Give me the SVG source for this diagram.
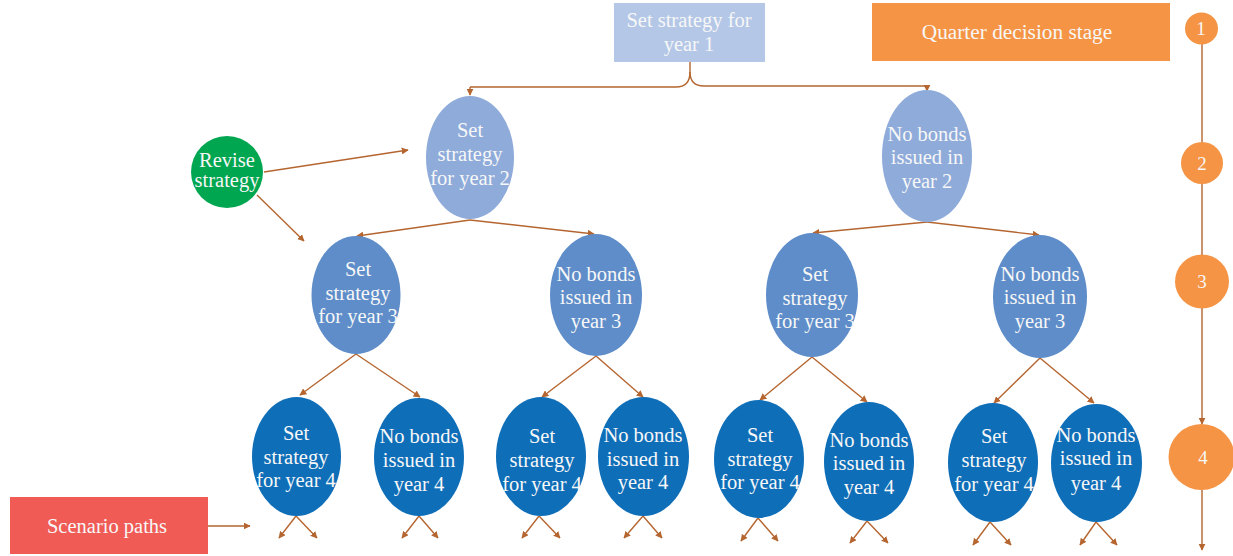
<svg xmlns="http://www.w3.org/2000/svg" width="1233" height="556" viewBox="0 0 1233 556">
<style>
text{font-family:"Liberation Serif","Times New Roman",serif;fill:#f7f7f7;text-anchor:middle;font-size:20.5px}
.c{stroke:#b5652f;stroke-width:1.4;fill:none;marker-end:url(#ah)}
.n{stroke:#b5652f;stroke-width:1.4;fill:none}
.l2{fill:#8eabda}
.l3{fill:#5e8dc9}
.l4{fill:#0f6eb8}
.num{font-size:19px}
.big{font-size:21.3px}
</style>
<defs>
<marker id="ah" viewBox="0 0 10 10" refX="9" refY="5" markerWidth="7" markerHeight="7" markerUnits="userSpaceOnUse" orient="auto">
<path d="M0,0 L10,5 L0,10 z" fill="#b5652f"/>
</marker>
</defs>

<g id="connectors">
<path class="n" d="M690,62 L690,72 Q690,87 676,87 L470,87"/>
<path class="c" d="M470,87 L470,95"/>
<path class="n" d="M690,72 Q690,86 704,86 L927,86"/>
<path class="c" d="M927,86 L927,91"/>
<path class="c" d="M264,172 L408,150"/>
<path class="c" d="M257,195 L304,241"/>
<path class="c" d="M470,220 L357,236"/>
<path class="c" d="M470,220 L594,234"/>
<path class="c" d="M927,222 L813,233"/>
<path class="c" d="M927,222 L1039,235"/>
<path class="c" d="M356,354 L300,395"/>
<path class="c" d="M356,354 L420,397"/>
<path class="c" d="M596,356 L542,397"/>
<path class="c" d="M596,356 L643,397"/>
<path class="c" d="M812,357 L760,400"/>
<path class="c" d="M812,357 L867,402"/>
<path class="c" d="M1040,358 L994,403"/>
<path class="c" d="M1040,358 L1094,403"/>
<path class="c" d="M296,516 L279,538"/>
<path class="c" d="M296,516 L317,538"/>
<path class="c" d="M419,516 L402,538"/>
<path class="c" d="M419,516 L438,538"/>
<path class="c" d="M539,516 L522,538"/>
<path class="c" d="M539,516 L560,538"/>
<path class="c" d="M643,516 L624,538"/>
<path class="c" d="M643,516 L662,538"/>
<path class="c" d="M758,518 L741,541"/>
<path class="c" d="M758,518 L778,541"/>
<path class="c" d="M867,521 L850,543"/>
<path class="c" d="M867,521 L888,543"/>
<path class="c" d="M990,522 L973,545"/>
<path class="c" d="M990,522 L1011,545"/>
<path class="c" d="M1096,522 L1080,545"/>
<path class="c" d="M1096,522 L1117,545"/>
<path class="c" d="M208,526 L250,526"/>
<path class="n" d="M1202,43 L1202,142"/>
<path class="n" d="M1202,184 L1202,255"/>
<path class="c" d="M1202,308 L1202,424"/>
<path class="c" d="M1202,490 L1202,550"/>
</g>

<g id="year1">
<rect x="614" y="3" width="151" height="59" fill="#b4c7e7"/>
<text x="689" y="27">Set strategy for</text>
<text x="689" y="51">year 1</text>
</g>

<g id="quarter-stage">
<rect x="872" y="3" width="298" height="58" fill="#f59444"/>
<text class="big" x="1017" y="39">Quarter decision stage</text>
</g>

<g id="scenario-paths">
<rect x="10" y="497" width="198" height="57" fill="#f05b55"/>
<text x="107" y="533">Scenario paths</text>
</g>

<g id="revise">
<circle cx="227" cy="172" r="36" fill="#00a650"/>
<text x="227" y="167">Revise</text>
<text x="227" y="187">strategy</text>
</g>

<g id="y2-set">
<ellipse class="l2" cx="470" cy="157.5" rx="44" ry="61.5"/>
<text x="470" y="137">Set</text>
<text x="470" y="161">strategy</text>
<text x="470" y="185">for year 2</text>
</g>
<g id="y2-nob">
<ellipse class="l2" cx="927" cy="156" rx="45" ry="66"/>
<text x="927" y="141">No bonds</text>
<text x="927" y="164">issued in</text>
<text x="927" y="188">year 2</text>
</g>

<g id="y3-set-a">
<ellipse class="l3" cx="356" cy="295" rx="44.5" ry="59"/>
<text x="358" y="276">Set</text>
<text x="358" y="300">strategy</text>
<text x="358" y="323">for year 3</text>
</g>
<g id="y3-nob-a">
<ellipse class="l3" cx="596" cy="295" rx="46" ry="61"/>
<text x="596" y="281">No bonds</text>
<text x="596" y="304">issued in</text>
<text x="596" y="328">year 3</text>
</g>
<g id="y3-set-b">
<ellipse class="l3" cx="812" cy="295" rx="46" ry="62"/>
<text x="815" y="281">Set</text>
<text x="815" y="305">strategy</text>
<text x="815" y="328">for year 3</text>
</g>
<g id="y3-nob-b">
<ellipse class="l3" cx="1040" cy="296.5" rx="47" ry="61.5"/>
<text x="1040" y="281">No bonds</text>
<text x="1040" y="304">issued in</text>
<text x="1040" y="328">year 3</text>
</g>

<g id="y4-set-a">
<ellipse class="l4" cx="296.5" cy="456.5" rx="44.5" ry="59.5"/>
<text x="296" y="440">Set</text>
<text x="296" y="464">strategy</text>
<text x="296" y="487">for year 4</text>
</g>
<g id="y4-nob-a">
<ellipse class="l4" cx="419" cy="457" rx="45" ry="59"/>
<text x="419" y="443">No bonds</text>
<text x="419" y="467">issued in</text>
<text x="419" y="491">year 4</text>
</g>
<g id="y4-set-b">
<ellipse class="l4" cx="541" cy="456.5" rx="45" ry="59.5"/>
<text x="542" y="443">Set</text>
<text x="542" y="467">strategy</text>
<text x="542" y="491">for year 4</text>
</g>
<g id="y4-nob-b">
<ellipse class="l4" cx="643.5" cy="456.5" rx="45.5" ry="59.5"/>
<text x="643" y="442">No bonds</text>
<text x="643" y="466">issued in</text>
<text x="643" y="489">year 4</text>
</g>
<g id="y4-set-c">
<ellipse class="l4" cx="759" cy="459" rx="45" ry="59"/>
<text x="760" y="442">Set</text>
<text x="760" y="466">strategy</text>
<text x="760" y="489">for year 4</text>
</g>
<g id="y4-nob-c">
<ellipse class="l4" cx="869" cy="461.5" rx="45" ry="59.5"/>
<text x="869" y="447">No bonds</text>
<text x="869" y="470">issued in</text>
<text x="869" y="494">year 4</text>
</g>
<g id="y4-set-d">
<ellipse class="l4" cx="993" cy="462.5" rx="45" ry="59.5"/>
<text x="994" y="443">Set</text>
<text x="994" y="467">strategy</text>
<text x="994" y="491">for year 4</text>
</g>
<g id="y4-nob-d">
<ellipse class="l4" cx="1096.5" cy="463" rx="45.5" ry="59"/>
<text x="1096" y="442">No bonds</text>
<text x="1096" y="465">issued in</text>
<text x="1096" y="490">year 4</text>
</g>

<g id="stage1">
<ellipse cx="1201.5" cy="28.5" rx="16.5" ry="16" fill="#f59444"/>
<text class="num" x="1201" y="35">1</text>
</g>
<g id="stage2">
<circle cx="1202" cy="163" r="21" fill="#f59444"/>
<text class="num" x="1202" y="170">2</text>
</g>
<g id="stage3">
<circle cx="1202" cy="281.5" r="27" fill="#f59444"/>
<text class="num" x="1202" y="288">3</text>
</g>
<g id="stage4">
<circle cx="1201.5" cy="457" r="33" fill="#f59444"/>
<text class="num" x="1203" y="464">4</text>
</g>
</svg>
